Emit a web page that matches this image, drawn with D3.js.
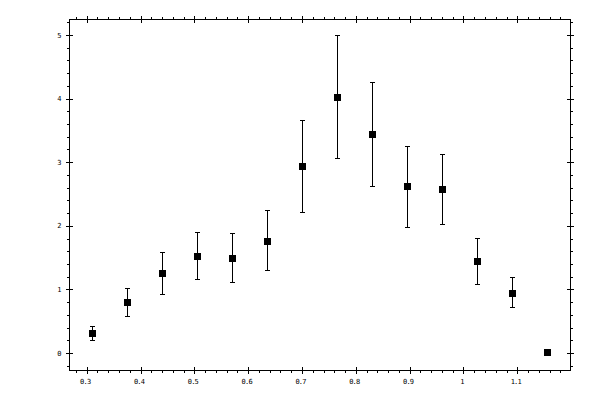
<!DOCTYPE html>
<html>
<head>
<meta charset="utf-8">
<script src="https://cdn.jsdelivr.net/npm/d3@7"></script>
<style>
  body { margin: 0; background: #fff; }
  svg { display: block; }
  text { font-family: "DejaVu Sans Mono", monospace; font-size: 7px; fill: #000; }
</style>
</head>
<body>
<svg id="chart" width="600" height="400"></svg>
<script>
const xValues = [0.31, 0.375, 0.44, 0.505, 0.57, 0.635, 0.70, 0.765, 0.83, 0.895, 0.96, 1.025, 1.09, 1.155];
const yValues = [0.31, 0.80, 1.25, 1.52, 1.49, 1.76, 2.94, 4.02, 3.44, 2.62, 2.57, 1.44, 0.94, 0.01];
const yUpper  = [0.42, 1.02, 1.58, 1.90, 1.88, 2.24, 3.66, 5.00, 4.26, 3.25, 3.12, 1.80, 1.18, 0.01];
const yLower  = [0.20, 0.57, 0.92, 1.15, 1.11, 1.29, 2.21, 3.06, 2.62, 1.98, 2.02, 1.08, 0.72, 0.01];
const xTicks = [0.3, 0.4, 0.5, 0.6, 0.7, 0.8, 0.9, 1, 1.1];
const xTickLabels = ["0.3", "0.4", "0.5", "0.6", "0.7", "0.8", "0.9", "1", "1.1"];
const yTicks = [0, 1, 2, 3, 4, 5];
const yTickLabels = ["0", "1", "2", "3", "4", "5"];
const xMinorTicks = d3.range(14, 60).map(i => i * 0.02);
const yMinorTicks = d3.range(-1, 27).map(i => i * 0.2);

const svg = d3.select("#chart");
const frame = { left: 69.5, right: 570, top: 19.5, bottom: 370 };
const x = d3.scaleLinear().domain([0.3, 1.1]).range([86.7, 517.3]);
const y = d3.scaleLinear().domain([0, 5]).range([353, 35]);

const g = svg.append("g").attr("shape-rendering", "crispEdges");

// frame
g.append("rect")
  .attr("x", frame.left).attr("y", frame.top)
  .attr("width", frame.right - frame.left).attr("height", frame.bottom - frame.top)
  .attr("fill", "none").attr("stroke", "#000").attr("stroke-width", 1);

const majorHalf = 3.5, minorLen = 3;

// bottom & top axes
[frame.bottom, frame.top].forEach((yy, idx) => {
  const dir = idx === 0 ? 1 : -1;
  g.selectAll(null).data(xTicks).enter().append("line")
    .attr("x1", d => Math.round(x(d)) + 0.5).attr("x2", d => Math.round(x(d)) + 0.5)
    .attr("y1", yy - majorHalf).attr("y2", yy + majorHalf)
    .attr("stroke", "#000");
  g.selectAll(null).data(xMinorTicks.filter(d => xTicks.every(t => Math.abs(t - d) > 1e-6))).enter().append("line")
    .attr("x1", d => Math.round(x(d)) + 0.5).attr("x2", d => Math.round(x(d)) + 0.5)
    .attr("y1", yy).attr("y2", yy + dir * minorLen)
    .attr("stroke", "#000");
});

// left & right axes
[frame.left, frame.right].forEach((xx, idx) => {
  const dir = idx === 0 ? -1 : 1;
  g.selectAll(null).data(yTicks).enter().append("line")
    .attr("y1", d => Math.round(y(d)) + 0.5).attr("y2", d => Math.round(y(d)) + 0.5)
    .attr("x1", xx - majorHalf).attr("x2", xx + majorHalf)
    .attr("stroke", "#000");
  g.selectAll(null).data(yMinorTicks.filter(d => yTicks.every(t => Math.abs(t - d) > 1e-6))).enter().append("line")
    .attr("y1", d => Math.round(y(d)) + 0.5).attr("y2", d => Math.round(y(d)) + 0.5)
    .attr("x1", xx).attr("x2", xx + dir * minorLen)
    .attr("stroke", "#000");
});

// tick labels
svg.selectAll(null).data(xTicks).enter().append("text")
  .attr("x", d => x(d) - 1.5).attr("y", 383.5)
  .attr("text-anchor", "middle").attr("letter-spacing", "-0.8")
  .text((d, i) => xTickLabels[i]);
svg.selectAll(null).data(yTicks).enter().append("text")
  .attr("x", 61.5).attr("y", d => y(d) + 2.5)
  .attr("text-anchor", "end")
  .text((d, i) => yTickLabels[i]);

// error bars
const data = xValues.map((xv, i) => ({ x: xv, y: yValues[i], hi: yUpper[i], lo: yLower[i] }));
const cap = 2.5;
const eb = g.append("g").attr("stroke", "#000").attr("stroke-width", 1);
data.filter(d => d.hi - d.lo > 0.02).forEach(d => {
  const cx = Math.round(x(d.x)) + 0.5;
  eb.append("line").attr("x1", cx).attr("x2", cx).attr("y1", y(d.hi)).attr("y2", y(d.lo));
  eb.append("line").attr("x1", cx - cap).attr("x2", cx + cap).attr("y1", y(d.hi)).attr("y2", y(d.hi));
  eb.append("line").attr("x1", cx - cap).attr("x2", cx + cap).attr("y1", y(d.lo)).attr("y2", y(d.lo));
});

// markers
const ms = 7;
g.selectAll(null).data(data).enter().append("rect")
  .attr("x", d => Math.round(x(d.x)) + 0.5 - ms / 2)
  .attr("y", d => y(d.y) - ms / 2)
  .attr("width", ms).attr("height", ms)
  .attr("fill", "#000");
</script>
</body>
</html>
